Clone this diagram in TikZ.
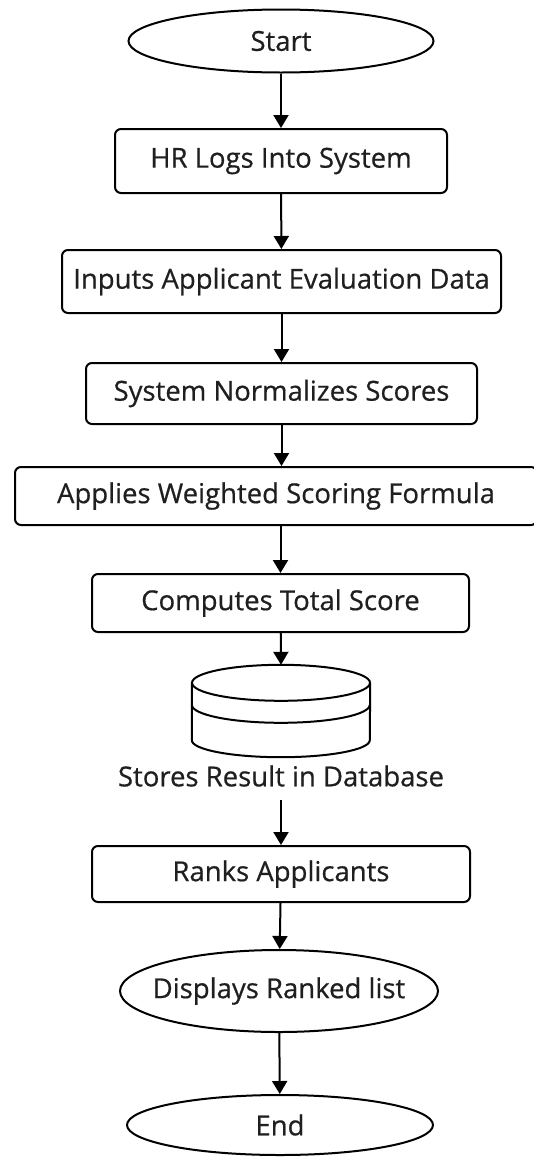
\documentclass[tikz,border=0pt]{standalone}
\usepackage{fontspec}
\newfontfamily\labelfont{Open Sans}[FakeBold=0.6]
\usetikzlibrary{shapes.geometric,arrows.meta}
\begin{document}
\begin{tikzpicture}[x=1pt,y=-1pt,
  every node/.style={font=\labelfont\fontsize{27.5}{31}\selectfont, text=black!88},
  procbox/.style={draw, line width=2pt, rounded corners=6pt, inner sep=0pt},
  terminal/.style={draw, ellipse, line width=2pt, inner sep=0pt},
  flow/.style={line width=2pt, -{Triangle[length=13pt,width=15pt]}}]
\useasboundingbox (0,0) rectangle (534,1157);

% terminals and process steps
\node[terminal, minimum width=305pt, minimum height=63pt] (start) at (281,41) {\makebox[0pt]{Start}};
\node[procbox, minimum width=332pt, minimum height=64pt] (login) at (281,161) {HR Logs Into System};
\node[procbox, minimum width=439pt, minimum height=63pt] (input) at (281.5,281.5) {Inputs Applicant Evaluation Data};
\node[procbox, minimum width=391pt, minimum height=61pt] (norm) at (281.5,393.5) {System Normalizes Scores};
\node[procbox, minimum width=522pt, minimum height=58pt] (weight) at (276,496) {Applies Weighted Scoring Formula};
\node[procbox, minimum width=377pt, minimum height=58pt] (total) at (280.5,603) {Computes Total Score};

% database cylinder
\node[minimum width=178pt, minimum height=92pt, inner sep=0pt] (db) at (281,711) {};
\draw[line width=2pt]
  ([yshift=-18pt]db.north west) -- ([yshift=17pt]db.south west)
  arc[start angle=180, end angle=360, x radius=89pt, y radius=17pt]
  -- ([yshift=-18pt]db.north east);
\draw[line width=2pt] ([yshift=-18pt]db.north) ellipse [x radius=89pt, y radius=18pt];
\draw[line width=2pt] ([yshift=-40pt]db.north west)
  arc[start angle=180, end angle=360, x radius=89pt, y radius=18pt];
\node (store) at (281,776) {Stores Result in Database};
\coordinate (storeout) at (281,800);

\node[procbox, minimum width=378pt, minimum height=56pt] (rank) at (281,874) {Ranks Applicants};
\node[terminal, minimum width=318pt, minimum height=82pt] (show) at (279,991) {\makebox[0pt]{Displays Ranked list}};
\node[terminal, minimum width=306pt, minimum height=60pt] (finish) at (280,1125) {\makebox[0pt]{End}};

% connectors
\draw[flow] (start) -- (login);
\draw[flow] (login) -- (input);
\draw[flow] (input) -- (norm);
\draw[flow] (norm) -- (weight.north -| norm.south);
\draw[flow] (weight.south -| total.north) -- (total);
\draw[flow] (total) -- (db.north);
\draw[flow] (storeout) -- (rank);
\draw[flow] (rank) -- (show);
\draw[flow] (show) -- (finish);
\end{tikzpicture}
\end{document}
